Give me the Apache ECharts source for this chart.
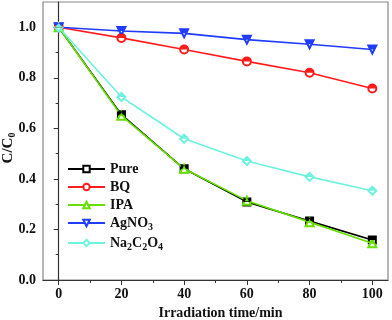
<!DOCTYPE html>
<html><head><meta charset="utf-8">
<script src="https://cdn.jsdelivr.net/npm/echarts@6/dist/echarts.min.js"></script>
<style>html,body{margin:0;padding:0;background:#fff}#c{width:392px;height:320px}</style>
</head><body><div id="c"></div>
<script>
const times = [0, 20, 40, 60, 80, 100];
const xTicks = [0, 20, 40, 60, 80, 100];
const xMinor = [10, 30, 50, 70, 90];
const yTicks = [0, 0.2, 0.4, 0.6, 0.8, 1.0];
const yMinor = [0.1, 0.3, 0.5, 0.7, 0.9];
const names = ['Pure', 'BQ', 'IPA', 'AgNO3', 'Na2C2O4'];
const pure = [1.0, 0.654, 0.44, 0.309, 0.233, 0.158];
const bq = [1.0, 0.958, 0.912, 0.865, 0.82, 0.758];
const ipa = [1.0, 0.65, 0.44, 0.314, 0.229, 0.145];
const agno3 = [1.0, 0.985, 0.976, 0.951, 0.933, 0.912];
const na2c2o4 = [1.0, 0.724, 0.559, 0.471, 0.408, 0.353];

const values = [pure, bq, ipa, agno3, na2c2o4];
const colors = ['#000000', '#ff1c1c', '#66e000', '#1f3cff', '#6ff2e0'];
const outline = ['emptyRect', 'emptyCircle', 'emptyTriangle', 'emptyTriangle', 'emptyDiamond'];
const rotate = [0, 0, 0, 180, 0];
const sizes = [7, 8, 8, 8, 8];
const halfPaths = [
  'path://M0,0 L10,0 L10,5 L0,5 Z',
  'path://M0,5 A5,5 0 0 1 10,5 Z',
  'path://M5,0 L10,10 L0,10 Z',
  'path://M0,0 L10,0 L7.5,5 L2.5,5 Z',
  'path://M5,0 L10,5 L0,5 Z'
];
const halfSize = [[7, 3.5], [8, 4], [4, 4], [8, 4], [8, 4]];
const halfOffset = [[0, -1.75], [0, -2], [0, -1.5], [0, -2], [0, -2]];

const font = 'Liberation Serif';
const series = [];
names.forEach((n, i) => {
  const pts = times.map((t, k) => [t, values[i][k]]);
  series.push({
    name: n, type: 'line', data: pts, xAxisIndex: 0, yAxisIndex: 0,
    symbol: outline[i], symbolSize: sizes[i], symbolRotate: rotate[i],
    showAllSymbol: true,
    lineStyle: {color: colors[i], width: 1.6},
    itemStyle: {color: colors[i], borderColor: colors[i], borderWidth: 1},
    z: 2 + i
  });
});
names.forEach((n, i) => {
  const pts = times.map((t, k) => [t, values[i][k]]);
  series.push({
    name: n + '_half', type: 'scatter', data: pts, xAxisIndex: 0, yAxisIndex: 0,
    symbol: halfPaths[i], symbolSize: halfSize[i], symbolOffset: halfOffset[i],
    itemStyle: {color: colors[i], opacity: 1}, silent: true, z: 10 + i
  });
});

const legendLabel = {
  'Pure': 'Pure', 'BQ': 'BQ', 'IPA': 'IPA',
  'AgNO3': 'AgNO{s|3}', 'Na2C2O4': 'Na{s|2}C{s|2}O{s|4}'
};
const subStyle = {fontFamily: font, fontWeight: 'bold', fontSize: 10, color: '#111', verticalAlign: 'bottom', padding: [8, 0, 0, 0]};

const chart = echarts.init(document.getElementById('c'), null, {renderer: 'canvas'});
chart.setOption({
  animation: false,
  grid: {left: 43, right: 4, top: 2, bottom: 40, show: true, borderColor: '#888', borderWidth: 1.2, outerBoundsMode: 'none', containLabel: false},
  legend: {
    data: names, orient: 'vertical', left: 62, top: 157, itemGap: 4,
    itemWidth: 37, itemHeight: 8,
    formatter: n => legendLabel[n],
    textStyle: {fontFamily: font, fontWeight: 'bold', fontSize: 14, color: '#111', rich: {s: subStyle}}
  },
  xAxis: [{
    type: 'value', min: -5, max: 105, position: 'bottom',
    name: 'Irradiation time/min', nameLocation: 'middle', nameGap: 26, nameMoveOverlap: false,
    nameTextStyle: {fontFamily: font, fontWeight: 'bold', fontSize: 14, color: '#111', padding: [0, 0, 0, 10]},
    axisLine: {lineStyle: {color: '#333', width: 1.2}},
    axisTick: {customValues: xTicks, length: 5, lineStyle: {color: '#333'}},
    axisLabel: {customValues: xTicks, fontFamily: font, fontWeight: 'bold', fontSize: 14, color: '#111', margin: 7},
    splitLine: {show: false}
  }, {
    type: 'value', min: -5, max: 105, position: 'bottom', gridIndex: 0,
    axisLine: {show: false},
    axisTick: {customValues: xMinor, length: 3, lineStyle: {color: '#333'}},
    axisLabel: {show: false}, splitLine: {show: false}
  }],
  yAxis: [{
    type: 'value', min: 0, max: 1.1, position: 'left',
    name: 'C/C{s|0}', nameLocation: 'middle', nameGap: 26, nameRotate: 90, nameMoveOverlap: false,
    nameTextStyle: {fontFamily: font, fontWeight: 'bold', fontSize: 15, color: '#111', padding: [0, 14, 0, 0], rich: {s: subStyle}},
    axisLine: {show: true, lineStyle: {color: '#333', width: 1.2}},
    axisTick: {show: true, customValues: yTicks, length: 5, lineStyle: {color: '#333'}},
    axisLabel: {customValues: yTicks, formatter: v => v.toFixed(1), fontFamily: font, fontWeight: 'bold', fontSize: 14, color: '#111', margin: 7},
    splitLine: {show: false}
  }, {
    type: 'value', min: 0, max: 1.1, position: 'left', gridIndex: 0,
    axisLine: {show: false},
    axisTick: {show: true, customValues: yMinor, length: 3, lineStyle: {color: '#333'}},
    axisLabel: {show: false}, splitLine: {show: false}
  }],
  series: series
});
</script></body></html>
